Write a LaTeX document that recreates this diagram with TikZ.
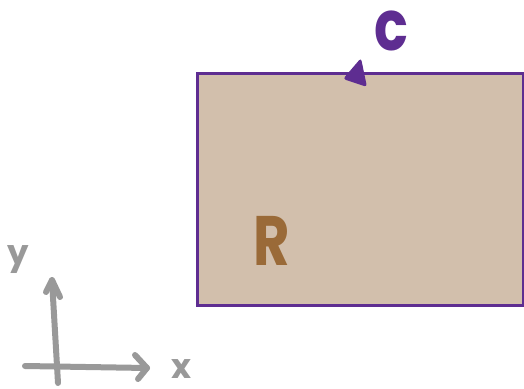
\documentclass[tikz,border=0pt]{standalone}
\usepackage{fontspec}
\setmainfont{Poppins}
\usetikzlibrary{arrows.meta}
\definecolor{cpurple}{HTML}{5E2D91}
\definecolor{cfill}{HTML}{D2BFAC}
\definecolor{cbrown}{HTML}{9A6A38}
\definecolor{cgray}{HTML}{999999}
\tikzset{
  axisline/.style={draw=cgray,line width=6pt,line cap=round,line join=round},
  lbl/.style={inner sep=0pt,font=\bfseries\fontsize{70}{70}\selectfont,xscale=0.8},
  axlbl/.style={inner sep=0pt,text=cgray,font=\bfseries\fontsize{34}{34}\selectfont}
}
\begin{document}
\begin{tikzpicture}[x=1pt,y=-1pt]
\useasboundingbox (0,0) rectangle (524,388);
% region
\node[draw=cpurple,line width=3pt,fill=cfill,minimum width=326pt,minimum height=232pt,inner sep=0pt,anchor=north west] (region) at (196,72) {};
\node[lbl,text=cbrown,anchor=base] (R) at (272,265) {R};
\node[lbl,text=cpurple,anchor=base] (C) at (391,50) {c};
% orientation arrowhead
\fill[cpurple,rounded corners=3pt] (343,79) -- (361,58) -- (367,87) -- cycle;
% axes
\coordinate (ytop) at (52,280);
\coordinate (ybot) at (58,383);
\coordinate (xl) at (25,366);
\coordinate (xr) at (147,368);
\draw[axisline] (ybot) -- (ytop);
\draw[axisline] (46,292) -- (ytop) -- (60,297);
\draw[axisline] (xl) -- (xr);
\draw[axisline] (135,355) -- (xr) -- (138,379);
\node[axlbl,anchor=base] (xlab) at (181,378) {x};
\node[axlbl,anchor=base] (ylab) at (18,264) {y};
\end{tikzpicture}
\end{document}
